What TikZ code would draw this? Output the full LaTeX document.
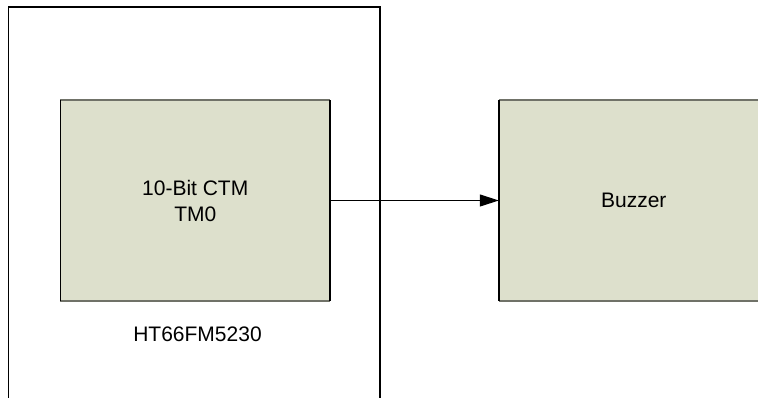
\documentclass[tikz,border=0pt]{standalone}
\usepackage{fontspec}
\setmainfont{Liberation Sans}
\usetikzlibrary{arrows.meta}
\definecolor{boxfill}{RGB}{221,224,204}
\definecolor{edgegray}{RGB}{112,114,104}
\tikzset{
  block/.style={fill=boxfill, draw=none, minimum width=269.5pt, minimum height=200pt,
    inner sep=0pt, align=center, font=\fontsize{21}{26}\selectfont},
  sideedge/.style={draw=black, line width=1.5pt},
  capedge/.style={draw=edgegray, line width=2pt},
  outerline/.style={draw=black, line width=1.4pt},
  label/.style={font=\fontsize{21}{26}\selectfont, inner sep=0pt},
  conn/.style={draw=black, line width=1pt, -{Triangle[length=19pt,width=12pt]}}
}
\begin{document}
\begin{tikzpicture}[x=1pt,y=-1pt]
\useasboundingbox (0,0) rectangle (758,398);
\clip (0,0) rectangle (758,398);
\fill[white] (0,0) rectangle (758,398);
% outer chip outline (open at bottom)
\coordinate (obl) at (8.5,402);
\coordinate (otl) at (8.5,7);
\coordinate (otr) at (380,7);
\coordinate (obr) at (380,402);
\draw[outerline] (obl) -- (otl) -- (otr) -- (obr);
% blocks
\node[block] (ctm) at (195.25,200.5) {10-Bit CTM\\TM0};
\node[block] (buz) at (633.75,200.5) {Buzzer};
\foreach \n in {ctm,buz}{
  \draw[capedge] (\n.north west) -- (\n.north east);
  \draw[capedge] (\n.south west) -- (\n.south east);
  \draw[sideedge] (\n.north west) -- (\n.south west);
  \draw[sideedge] (\n.north east) -- (\n.south east);
}
% label
\node[label] (chip) at (197.5,334.5) {HT66FM5230};
% connector
\draw[conn] (ctm.east) -- (buz.west);
\end{tikzpicture}
\end{document}
